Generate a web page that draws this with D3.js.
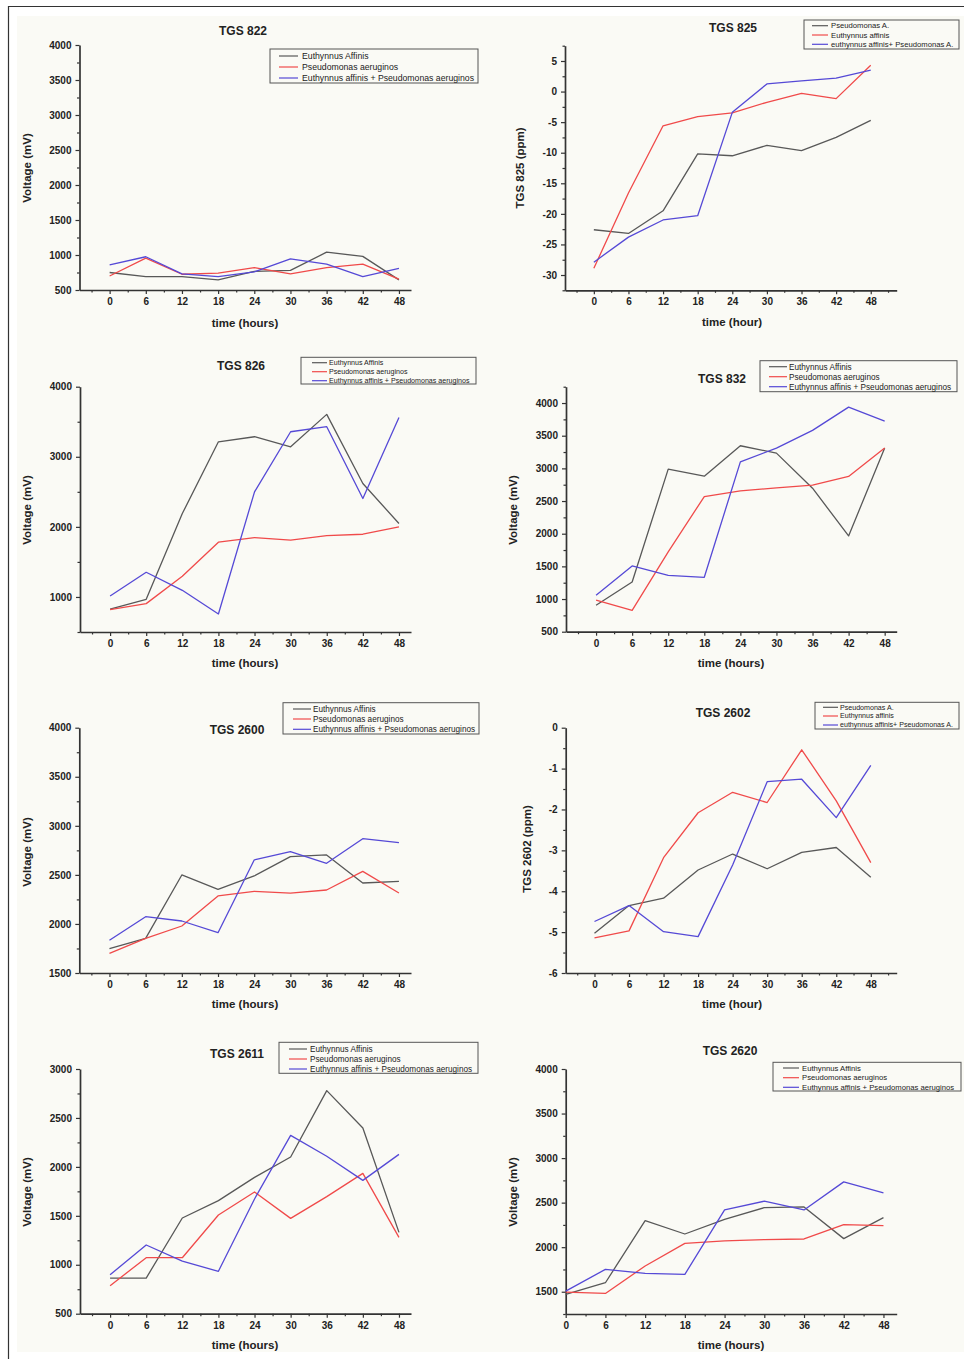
<!DOCTYPE html>
<html>
<head>
<meta charset="utf-8">
<script src="https://cdn.jsdelivr.net/npm/d3@7"></script>
<style>
  body { margin: 0; background: #fff; }
  text { font-family: "Liberation Sans", Arial, sans-serif; }
</style>
</head>
<body>
<script>
// sampling times (hours)
var hours = [0, 6, 12, 18, 24, 30, 36, 42, 48];
var xTicks = [0, 6, 12, 18, 24, 30, 36, 42, 48];

var voltLabels = ["Euthynnus Affinis", "Pseudomonas aeruginos", "Euthynnus affinis + Pseudomonas aeruginos"];
var ppmLabels = ["Pseudomonas A.", "Euthynnus affinis", "euthynnus affinis+ Pseudomonas A."];
var seriesColors = ["#585858", "#f04a4a", "#5549d6"];

// TGS 822 (mV)
var tgs822_ea = [750, 690, 690, 645, 765, 780, 1040, 980, 645];
var tgs822_pa = [700, 955, 725, 740, 820, 730, 820, 870, 655];
var tgs822_mix = [860, 975, 730, 690, 760, 945, 870, 690, 810];

// TGS 825 (ppm)
var tgs825_pa = [-22.6, -23.2, -19.5, -10.2, -10.5, -8.8, -9.65, -7.5, -4.7];
var tgs825_ea = [-28.9, -16.6, -5.6, -4.1, -3.5, -1.75, -0.3, -1.15, 4.3];
var tgs825_mix = [-27.9, -23.8, -21.0, -20.3, -3.4, 1.25, 1.75, 2.2, 3.5];

// TGS 826 (mV)
var tgs826_ea = [828, 967, 2190, 3214, 3286, 3143, 3605, 2619, 2048];
var tgs826_pa = [819, 905, 1295, 1781, 1848, 1810, 1876, 1895, 2000];
var tgs826_mix = [1014, 1352, 1095, 757, 2500, 3357, 3429, 2405, 3562];

// TGS 832 (mV)
var tgs832_ea = [904, 1261, 2988, 2881, 3346, 3233, 2697, 1966, 3310];
var tgs832_pa = [985, 827, 1721, 2569, 2656, 2702, 2743, 2876, 3310];
var tgs832_mix = [1057, 1507, 1363, 1333, 3100, 3310, 3581, 3938, 3724];

// TGS 2600 (mV)
var tgs2600_ea = [1748, 1853, 2499, 2353, 2489, 2686, 2703, 2417, 2434];
var tgs2600_pa = [1700, 1853, 1979, 2285, 2332, 2315, 2346, 2536, 2315];
var tgs2600_mix = [1833, 2074, 2030, 1911, 2652, 2736, 2618, 2869, 2828];

// TGS 2602 (ppm)
var tgs2602_pa = [-5.03, -4.35, -4.17, -3.48, -3.09, -3.45, -3.05, -2.93, -3.66];
var tgs2602_ea = [-5.14, -4.97, -3.18, -2.08, -1.58, -1.83, -0.54, -1.79, -3.30];
var tgs2602_mix = [-4.74, -4.35, -4.99, -5.11, -3.36, -1.32, -1.26, -2.20, -0.92];

// TGS 2611 (mV)
var tgs2611_ea = [864, 864, 1478, 1655, 1893, 2101, 2779, 2397, 1331];
var tgs2611_pa = [786, 1072, 1072, 1508, 1743, 1474, 1696, 1934, 1280];
var tgs2611_mix = [898, 1202, 1038, 933, 1672, 2322, 2108, 1862, 2128];

// TGS 2620 (mV)
var tgs2620_ea = [1470, 1601, 2298, 2148, 2313, 2444, 2452, 2096, 2332];
var tgs2620_pa = [1496, 1481, 1789, 2043, 2070, 2085, 2092, 2253, 2242];
var tgs2620_mix = [1507, 1751, 1706, 1695, 2418, 2516, 2418, 2733, 2609];

// panel layout (pixel positions only)
var panels = [
  {title: "TGS 822", series: [tgs822_ea, tgs822_pa, tgs822_mix], labels: voltLabels, ylab: "Voltage (mV)", xlab: "time (hours)",
   ax: [79.5, 411], ay: [45, 290], xDom: [-5, 50], yDom: [500, 4000], step: 500,
   t: [243, 31], yl: [27, 168], xl: [245, 323],
   leg: [270, 49, 478, 83], rows: [56, 67, 78], ln: [279, 298], tx: 302, fs: 8.7},
  {title: "TGS 825", series: [tgs825_pa, tgs825_ea, tgs825_mix], labels: ppmLabels, ylab: "TGS 825 (ppm)", xlab: "time (hour)",
   ax: [565, 896.7], ay: [45.7, 290.3], xDom: [-5, 52.5], yDom: [-32.5, 7.5], step: 5,
   t: [733, 28], yl: [520, 168], xl: [732, 322],
   leg: [804, 20, 959, 49], rows: [25.7, 35, 44.3], ln: [812, 828], tx: 831, fs: 7.7},
  {title: "TGS 826", series: [tgs826_ea, tgs826_pa, tgs826_mix], labels: voltLabels, ylab: "Voltage (mV)", xlab: "time (hours)",
   ax: [80, 411], ay: [386.7, 632], xDom: [-5, 50], yDom: [500, 4000], step: 1000,
   t: [241, 366], yl: [27, 510], xl: [245, 663],
   leg: [301, 357.3, 476, 384], rows: [362.7, 371.7, 380.7], ln: [312, 327], tx: 329, fs: 7.1},
  {title: "TGS 832", series: [tgs832_ea, tgs832_pa, tgs832_mix], labels: voltLabels, ylab: "Voltage (mV)", xlab: "time (hours)",
   ax: [566, 896.7], ay: [386.7, 631.7], xDom: [-5, 50], yDom: [500, 4250], step: 500,
   t: [722, 379], yl: [513, 510], xl: [731, 663],
   leg: [760, 360.7, 957, 391.7], rows: [366.7, 376.7, 386.7], ln: [769, 787], tx: 789, fs: 8.2},
  {title: "TGS 2600", series: [tgs2600_ea, tgs2600_pa, tgs2600_mix], labels: voltLabels, ylab: "Voltage (mV)", xlab: "time (hours)",
   ax: [79.3, 411], ay: [727.7, 973], xDom: [-5, 50], yDom: [1500, 4000], step: 500,
   t: [237, 730], yl: [27, 852], xl: [245, 1004],
   leg: [283, 702.7, 479, 734], rows: [709, 719, 729.3], ln: [293, 311], tx: 313, fs: 8.2},
  {title: "TGS 2602", series: [tgs2602_pa, tgs2602_ea, tgs2602_mix], labels: ppmLabels, ylab: "TGS 2602 (ppm)", xlab: "time (hour)",
   ax: [565.7, 896.7], ay: [727.7, 973], xDom: [-5, 52.5], yDom: [-6, 0], step: 1,
   t: [723, 713], yl: [527, 849], xl: [732, 1004],
   leg: [815, 702.3, 959, 729], rows: [707.3, 716, 725], ln: [823, 838], tx: 840, fs: 7.1},
  {title: "TGS 2611", series: [tgs2611_ea, tgs2611_pa, tgs2611_mix], labels: voltLabels, ylab: "Voltage (mV)", xlab: "time (hours)",
   ax: [80, 411], ay: [1069, 1313.7], xDom: [-5, 50], yDom: [500, 3000], step: 500,
   t: [237, 1054], yl: [27, 1192], xl: [245, 1345],
   leg: [279, 1042.3, 478, 1073.3], rows: [1049, 1059, 1069], ln: [289, 307], tx: 310, fs: 8.2},
  {title: "TGS 2620", series: [tgs2620_ea, tgs2620_pa, tgs2620_mix], labels: voltLabels, ylab: "Voltage (mV)", xlab: "time (hours)",
   ax: [565.7, 896.7], ay: [1069, 1314], xDom: [0, 50], yDom: [1250, 4000], step: 500,
   t: [730, 1051], yl: [513, 1192], xl: [731, 1345],
   leg: [773, 1062.3, 961, 1091], rows: [1068, 1077.7, 1087.3], ln: [783, 799], tx: 802, fs: 7.7}
];

var svg = d3.select("body").append("svg")
  .attr("width", 964)
  .attr("height", 1359);

// page frame
svg.append("rect").attr("x", 17).attr("y", 16).attr("width", 947).attr("height", 1336).attr("fill", "#fafaf5");
svg.append("line").attr("x1", 8).attr("y1", 6.5).attr("x2", 964).attr("y2", 6.5).attr("stroke", "#333").attr("stroke-width", 1.2);
svg.append("line").attr("x1", 8.5).attr("y1", 6).attr("x2", 8.5).attr("y2", 1359).attr("stroke", "#333").attr("stroke-width", 1.2);

var fmt = function(d) { return String(d); };

panels.forEach(function(p) {
  var x = d3.scaleLinear().domain(p.xDom).range(p.ax);
  var y = d3.scaleLinear().domain(p.yDom).range([p.ay[1], p.ay[0]]);
  var g = svg.append("g");

  var eps = 1e-6;
  var yMajor = d3.range(Math.ceil(p.yDom[0] / p.step - eps) * p.step, p.yDom[1] + eps, p.step);
  var yMinor = d3.range(Math.ceil(p.yDom[0] / (p.step / 2) - eps) * (p.step / 2), p.yDom[1] + eps, p.step / 2)
    .filter(function(v) { return Math.abs(v / p.step - Math.round(v / p.step)) > eps; });
  var xMinor = d3.range(Math.ceil(p.xDom[0] / 3) * 3, p.xDom[1] + eps, 3)
    .filter(function(v) { return v % 6 !== 0; });

  // minor ticks
  g.append("g").attr("transform", "translate(" + p.ax[0] + ",0)")
    .call(d3.axisLeft(y).tickValues(yMinor).tickSize(2.5).tickSizeOuter(0).tickFormat(""))
    .call(function(s) { s.select(".domain").remove(); s.selectAll("line").attr("stroke", "#333").attr("stroke-width", 1.2); });
  g.append("g").attr("transform", "translate(0," + p.ay[1] + ")")
    .call(d3.axisBottom(x).tickValues(xMinor).tickSize(2.5).tickSizeOuter(0).tickFormat(""))
    .call(function(s) { s.select(".domain").remove(); s.selectAll("line").attr("stroke", "#333").attr("stroke-width", 1.2); });

  // major axes
  var yAx = g.append("g").attr("transform", "translate(" + p.ax[0] + ",0)")
    .call(d3.axisLeft(y).tickValues(yMajor).tickSize(4).tickSizeOuter(0).tickPadding(4).tickFormat(fmt));
  var xAx = g.append("g").attr("transform", "translate(0," + p.ay[1] + ")")
    .call(d3.axisBottom(x).tickValues(xTicks).tickSize(4).tickSizeOuter(0).tickPadding(4).tickFormat(fmt));
  [yAx, xAx].forEach(function(a) {
    a.select(".domain").attr("stroke", "#333").attr("stroke-width", 1.7);
    a.selectAll("line").attr("stroke", "#333").attr("stroke-width", 1.2);
    a.selectAll("text").attr("font-size", 10).attr("font-weight", "bold").attr("fill", "#222")
      .attr("font-family", "'Liberation Sans', Arial, sans-serif");
  });

  // series
  var line = d3.line()
    .x(function(d, i) { return x(hours[i]); })
    .y(function(d) { return y(d); });
  p.series.forEach(function(s, k) {
    g.append("path").datum(s)
      .attr("d", line)
      .attr("fill", "none")
      .attr("stroke", seriesColors[k])
      .attr("stroke-width", 1.3)
      .attr("stroke-linejoin", "round");
  });

  // titles
  g.append("text").attr("x", p.t[0]).attr("y", p.t[1]).attr("dy", "0.35em")
    .attr("text-anchor", "middle").attr("font-size", 12).attr("font-weight", "bold").attr("fill", "#222")
    .text(p.title);
  g.append("text").attr("transform", "translate(" + p.yl[0] + "," + p.yl[1] + ") rotate(-90)").attr("dy", "0.35em")
    .attr("text-anchor", "middle").attr("font-size", 11.5).attr("font-weight", "bold").attr("fill", "#222")
    .text(p.ylab);
  g.append("text").attr("x", p.xl[0]).attr("y", p.xl[1]).attr("dy", "0.35em")
    .attr("text-anchor", "middle").attr("font-size", 11.5).attr("font-weight", "bold").attr("fill", "#222")
    .text(p.xlab);

  // legend
  g.append("rect").attr("x", p.leg[0]).attr("y", p.leg[1])
    .attr("width", p.leg[2] - p.leg[0]).attr("height", p.leg[3] - p.leg[1])
    .attr("fill", "none").attr("stroke", "#555").attr("stroke-width", 1);
  p.labels.forEach(function(lab, k) {
    g.append("line").attr("x1", p.ln[0]).attr("x2", p.ln[1]).attr("y1", p.rows[k]).attr("y2", p.rows[k])
      .attr("stroke", seriesColors[k]).attr("stroke-width", 1.2);
    g.append("text").attr("x", p.tx).attr("y", p.rows[k]).attr("dy", "0.35em")
      .attr("font-size", p.fs).attr("fill", "#222").text(lab);
  });
});
</script>
</body>
</html>
